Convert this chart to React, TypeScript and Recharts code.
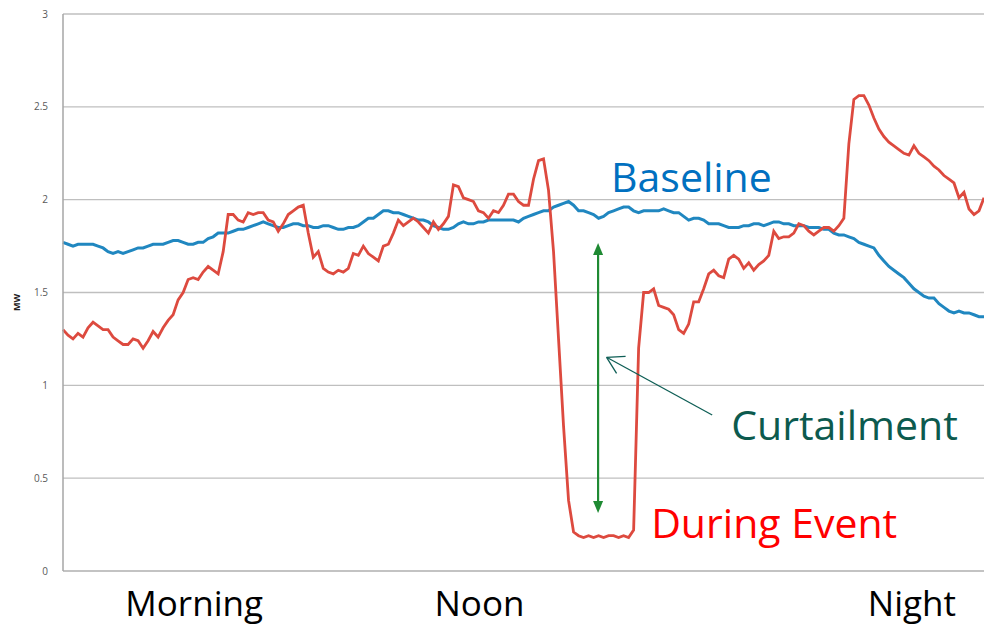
import React from 'react';
import { LineChart, Line, XAxis, YAxis, CartesianGrid, ReferenceLine, ReferenceDot } from 'recharts';

// Load during the curtailment event (MW), one reading per time slot
const duringEventMW = [
  1.30, 1.27, 1.25, 1.28, 1.26, 1.31, 1.34, 1.32, 1.30, 1.30,
  1.26, 1.24, 1.22, 1.22, 1.25, 1.24, 1.20, 1.24, 1.29, 1.26,
  1.31, 1.35, 1.38, 1.46, 1.50, 1.57, 1.58, 1.57, 1.61, 1.64,
  1.62, 1.60, 1.72, 1.92, 1.92, 1.89, 1.88, 1.93, 1.92, 1.93,
  1.93, 1.89, 1.88, 1.83, 1.87, 1.92, 1.94, 1.96, 1.97, 1.82,
  1.69, 1.72, 1.63, 1.61, 1.60, 1.62, 1.61, 1.63, 1.71, 1.70,
  1.75, 1.71, 1.69, 1.67, 1.75, 1.76, 1.82, 1.89, 1.86, 1.88,
  1.90, 1.88, 1.85, 1.82, 1.88, 1.84, 1.87, 1.91, 2.08, 2.07,
  2.01, 2.00, 1.99, 1.94, 1.93, 1.90, 1.94, 1.93, 1.97, 2.03,
  2.03, 1.99, 1.97, 1.97, 2.11, 2.21, 2.22, 2.05, 1.72, 1.25,
  0.78, 0.38, 0.21, 0.19, 0.18, 0.19, 0.18, 0.19, 0.18, 0.19,
  0.19, 0.18, 0.19, 0.18, 0.22, 1.20, 1.50, 1.50, 1.52, 1.43,
  1.42, 1.41, 1.38, 1.30, 1.28, 1.33, 1.45, 1.45, 1.52, 1.60,
  1.62, 1.59, 1.58, 1.68, 1.70, 1.68, 1.63, 1.66, 1.62, 1.65,
  1.67, 1.70, 1.83, 1.79, 1.80, 1.80, 1.82, 1.87, 1.86, 1.83,
  1.81, 1.83, 1.85, 1.85, 1.83, 1.86, 1.90, 2.30, 2.54, 2.56,
  2.56, 2.51, 2.44, 2.38, 2.34, 2.31, 2.29, 2.27, 2.25, 2.24,
  2.29, 2.25, 2.23, 2.21, 2.18, 2.16, 2.13, 2.11, 2.09, 2.01,
  2.04, 1.95, 1.92, 1.94, 2.01,
];

// Baseline load (MW), same time slots
const baselineMW = [
  1.77, 1.76, 1.75, 1.76, 1.76, 1.76, 1.76, 1.75, 1.74, 1.72,
  1.71, 1.72, 1.71, 1.72, 1.73, 1.74, 1.74, 1.75, 1.76, 1.76,
  1.76, 1.77, 1.78, 1.78, 1.77, 1.76, 1.76, 1.77, 1.77, 1.79,
  1.80, 1.82, 1.82, 1.82, 1.83, 1.84, 1.84, 1.85, 1.86, 1.87,
  1.88, 1.87, 1.86, 1.85, 1.85, 1.86, 1.87, 1.87, 1.86, 1.86,
  1.85, 1.85, 1.86, 1.86, 1.85, 1.84, 1.84, 1.85, 1.85, 1.86,
  1.88, 1.90, 1.90, 1.92, 1.94, 1.94, 1.93, 1.93, 1.92, 1.91,
  1.90, 1.89, 1.89, 1.88, 1.86, 1.85, 1.84, 1.84, 1.85, 1.87,
  1.88, 1.87, 1.87, 1.88, 1.88, 1.89, 1.89, 1.89, 1.89, 1.89,
  1.89, 1.88, 1.90, 1.91, 1.92, 1.93, 1.94, 1.94, 1.96, 1.97,
  1.98, 1.99, 1.97, 1.94, 1.94, 1.93, 1.92, 1.90, 1.91, 1.93,
  1.94, 1.95, 1.96, 1.96, 1.94, 1.93, 1.94, 1.94, 1.94, 1.94,
  1.95, 1.94, 1.93, 1.93, 1.91, 1.89, 1.90, 1.90, 1.89, 1.87,
  1.87, 1.87, 1.86, 1.85, 1.85, 1.85, 1.86, 1.86, 1.87, 1.87,
  1.86, 1.87, 1.88, 1.88, 1.87, 1.87, 1.86, 1.86, 1.86, 1.85,
  1.85, 1.85, 1.84, 1.84, 1.82, 1.81, 1.81, 1.80, 1.79, 1.77,
  1.76, 1.75, 1.74, 1.70, 1.67, 1.64, 1.62, 1.60, 1.58, 1.55,
  1.52, 1.50, 1.48, 1.47, 1.47, 1.44, 1.42, 1.40, 1.39, 1.40,
  1.39, 1.39, 1.38, 1.37, 1.37,
];

const yTicks = [0, 0.5, 1, 1.5, 2, 2.5, 3];
const periodLabels = ['Morning', 'Noon', 'Night'];
const periodSlots = [26.2, 83.2, 169.6];

// Annotation anchors (slot, MW)
const baselineTextAt = { x: 109.5, y: 2.04 };
const curtailTextAt = { x: 133.5, y: 0.706 };
const eventTextAt = { x: 117.5, y: 0.178 };
const curtailArrow = [{ x: 106.9, y: 1.767 }, { x: 106.9, y: 0.312 }];
const pointerArrow = [{ x: 108.6, y: 1.151 }, { x: 129.7, y: 0.84 }];

const data = duringEventMW.map((v, i) => ({ slot: i, event: v, baseline: baselineMW[i] }));

const FONT = "'Open Sans', 'Noto Sans', sans-serif";

const GreenArrow = (p: any) => {
  const { x1, y1, x2, y2 } = p;
  const c = '#1f8a33';
  const top = Math.min(y1, y2);
  const bot = Math.max(y1, y2);
  return (
    <g>
      <line x1={x1} y1={top + 10} x2={x2} y2={bot - 10} stroke={c} strokeWidth={2.2} />
      <polygon points={`${x1},${top} ${x1 - 5},${top + 12} ${x1 + 5},${top + 12}`} fill={c} />
      <polygon points={`${x1},${bot} ${x1 - 5},${bot - 12} ${x1 + 5},${bot - 12}`} fill={c} />
    </g>
  );
};

const Pointer = (p: any) => {
  const { x1, y1, x2, y2 } = p;
  const c = '#0e5e55';
  return (
    <g fill="none" stroke={c} strokeWidth={1.3}>
      <line x1={x2} y1={y2} x2={x1} y2={y1} />
      <line x1={x1} y1={y1} x2={x1 + 19} y2={y1 - 1} />
      <line x1={x1} y1={y1} x2={x1 + 10} y2={y1 + 16} />
    </g>
  );
};

const textShape = (label: string, color: string) => (p: any) => (
  <text x={p.cx} y={p.cy} fill={color} fontSize={41} fontFamily={FONT}>
    {label}
  </text>
);

const MWLabel = (props: any) => {
  const vb = props.viewBox || { x: 0, y: 14, width: 63, height: 557 };
  const cx = 20;
  const cy = vb.y + vb.height / 2 + 10;
  return (
    <text
      x={cx}
      y={cy}
      transform={`rotate(-90, ${cx}, ${cy})`}
      textAnchor="middle"
      fontSize={9}
      fontWeight="bold"
      fontFamily={FONT}
      fill="#222"
    >
      MW
    </text>
  );
};

export default function App() {
  return (
    <div style={{ position: 'absolute', left: 0, top: 0, width: 984, height: 629, background: '#fff' }}>
      <LineChart width={984} height={629} data={data} margin={{ top: 14, right: 0, bottom: 0, left: 0 }}>
        <CartesianGrid vertical={false} stroke="#bfbfbf" strokeWidth={1.3} />
        <XAxis
          dataKey="slot"
          type="number"
          domain={[0, duringEventMW.length - 1]}
          ticks={periodSlots}
          tickFormatter={(v: number) => periodLabels[periodSlots.indexOf(v)]}
          tickLine={false}
          axisLine={{ stroke: '#bfbfbf', strokeWidth: 1.3 }}
          tickSize={0}
          tickMargin={20}
          height={58}
          tick={{ fontSize: 35, fill: '#000', fontFamily: FONT }}
          interval={0}
        />
        <YAxis
          domain={[0, 3]}
          ticks={yTicks}
          width={63}
          tickLine={false}
          tickSize={0}
          tickMargin={15}
          axisLine={{ stroke: '#a6a6a6', strokeWidth: 1.5 }}
          tick={{ fontSize: 10, fill: '#595959', fontFamily: FONT }}
          label={{ content: MWLabel }}
        />
        <Line
          dataKey="baseline"
          type="linear"
          stroke="#2087c0"
          strokeWidth={3}
          dot={false}
          isAnimationActive={false}
        />
        <Line
          dataKey="event"
          type="linear"
          stroke="#dd4a3f"
          strokeWidth={2.8}
          dot={false}
          isAnimationActive={false}
        />
        <ReferenceLine segment={curtailArrow} shape={GreenArrow} ifOverflow="visible" />
        <ReferenceLine segment={pointerArrow} shape={Pointer} ifOverflow="visible" />
        <ReferenceDot x={baselineTextAt.x} y={baselineTextAt.y} r={0} ifOverflow="visible" shape={textShape('Baseline', '#0070c0')} />
        <ReferenceDot x={curtailTextAt.x} y={curtailTextAt.y} r={0} ifOverflow="visible" shape={textShape('Curtailment', '#0c5a4e')} />
        <ReferenceDot x={eventTextAt.x} y={eventTextAt.y} r={0} ifOverflow="visible" shape={textShape('During Event', '#ff0000')} />
      </LineChart>
    </div>
  );
}
